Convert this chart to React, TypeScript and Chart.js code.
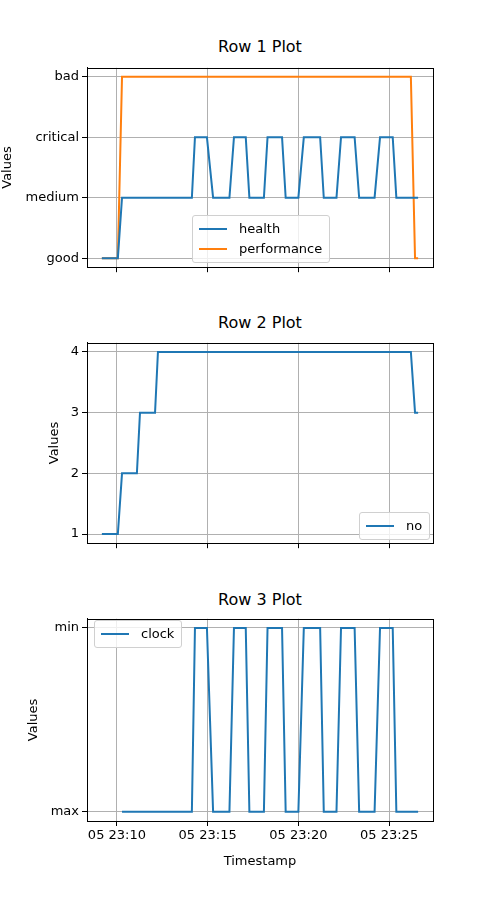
import { useRef, useEffect } from "react";
import { Chart, registerables } from "chart.js";

Chart.register(...registerables);

// minutes after 23:00
const healthTimes = [9.17, 10.05, 10.28, 14.13, 14.3, 14.96, 15.3, 16.2, 16.45, 17.1, 17.3, 18.1, 18.3, 19.1, 19.3, 20.0, 20.3, 21.2, 21.4, 22.1, 22.35, 23.1, 23.35, 24.2, 24.5, 25.2, 25.4, 26.6];
const healthValues = [0, 0, 1, 1, 2, 2, 1, 1, 2, 2, 1, 1, 2, 2, 1, 1, 2, 2, 1, 1, 2, 2, 1, 1, 2, 2, 1, 1];
const perfTimes = [9.17, 10.05, 10.28, 26.2, 26.43, 26.6];
const perfValues = [0, 0, 3, 3, 0, 0];
const noTimes = [9.17, 10.05, 10.28, 11.1, 11.27, 12.1, 12.26, 26.2, 26.43, 26.6];
const noValues = [1, 1, 2, 2, 3, 3, 4, 4, 3, 3];
const clockTimes = healthTimes.slice(2);
const clockValues = healthValues.slice(2).map((v) => (v === 2 ? 1 : 0));

const row1Labels = ["good", "medium", "critical", "bad"];
const row3Labels = ["max", "min"];
const xTicks = [10, 15, 20, 25];

const BLUE = "#1f77b4";
const ORANGE = "#ff7f0e";
const FONT = "'DejaVu Sans', sans-serif";

const frame = {
  id: "frame",
  afterDraw(chart: any) {
    const { ctx, chartArea: a } = chart;
    ctx.save();
    ctx.strokeStyle = "#000";
    ctx.lineWidth = 1;
    ctx.strokeRect(Math.round(a.left) + 0.5, Math.round(a.top) + 0.5, Math.round(a.right - a.left), Math.round(a.bottom - a.top));
    ctx.restore();
  },
};

interface IPanel {
  top: number;
  height: number;
  xHeight: number;
  padLeft: number;
  showX: boolean;
  yMin: number;
  yMax: number;
  yTicks: number[];
  yLabel: (v: number) => string;
  series: { label: string; times: number[]; values: number[]; color: string }[];
}

function Panel(p: IPanel) {
  const ref = useRef<HTMLCanvasElement>(null);
  useEffect(() => {
    if (!ref.current) return;
    const font = { family: FONT, size: 13 };
    const chart = new Chart(ref.current, {
      type: "line",
      data: {
        datasets: p.series.map((s) => ({
          label: s.label,
          data: s.times.map((t, i) => ({ x: t, y: s.values[i] })),
          borderColor: s.color,
          borderWidth: 2,
          pointRadius: 0,
          tension: 0,
        })),
      },
      options: {
        animation: false,
        responsive: false,
        layout: { padding: { left: p.padLeft, right: 67, top: 5, bottom: 0 } },
        plugins: { legend: { display: false }, tooltip: { enabled: false } },
        scales: {
          x: {
            type: "linear",
            min: 8.35,
            max: 27.42,
            afterBuildTicks: (s: any) => { s.ticks = xTicks.map((v) => ({ value: v })); },
            afterFit: (s: any) => { s.height = p.xHeight; },
            ticks: {
              display: p.showX,
              color: "#000",
              font,
              maxRotation: 0,
              padding: 2,
              callback: (v: any) => "05 23:" + String(v).padStart(2, "0"),
            },
            grid: { color: "#b0b0b0", tickColor: "#000", tickLength: 5 },
            border: { color: "#000" },
            title: { display: p.showX, text: "Timestamp", color: "#000", font, padding: 2 },
          },
          y: {
            min: p.yMin,
            max: p.yMax,
            afterBuildTicks: (s: any) => { s.ticks = p.yTicks.map((v) => ({ value: v })); },
            afterFit: (s: any) => { s.width = 87 - p.padLeft; },
            ticks: { color: "#000", font, padding: 3, callback: (v: any) => p.yLabel(Number(v)) },
            grid: { color: "#b0b0b0", tickColor: "#000", tickLength: 5 },
            border: { color: "#000" },
            title: { display: true, text: "Values", color: "#000", font, padding: 0 },
          },
        },
      },
      plugins: [frame],
    });
    return () => chart.destroy();
  }, []);
  return (
    <canvas ref={ref} width={500} height={p.height}
      style={{ position: "absolute", left: 0, top: p.top, width: 500, height: p.height }} />
  );
}

function Legend({ left, top, items }: { left: number; top: number; items: { label: string; color: string }[] }) {
  return (
    <div style={{
      position: "absolute", left, top, background: "rgba(255,255,255,0.8)", border: "1px solid #d0d0d0",
      borderRadius: 3, padding: "3px 7px 3px 6px", fontFamily: FONT, fontSize: 13, lineHeight: "20px",
    }}>
      {items.map((it) => (
        <div key={it.label} style={{ display: "flex", alignItems: "center" }}>
          <span style={{ display: "inline-block", width: 28, height: 2, background: it.color, marginRight: 12 }} />
          {it.label}
        </div>
      ))}
    </div>
  );
}

function Title({ top, text }: { top: number; text: string }) {
  return (
    <div style={{ position: "absolute", left: 87, width: 346, top, textAlign: "center", fontFamily: FONT, fontSize: 16, lineHeight: "20px" }}>
      {text}
    </div>
  );
}

export default function App() {
  return (
    <div style={{ position: "fixed", left: 0, top: 0, width: 500, height: 900, background: "#fff" }}>
      <Title top={37} text="Row 1 Plot" />
      <Panel top={57} height={221} xHeight={10} padLeft={0} showX={false} yMin={-0.15} yMax={3.15}
        yTicks={[0, 1, 2, 3]} yLabel={(v) => row1Labels[v] ?? ""}
        series={[
          { label: "health", times: healthTimes, values: healthValues, color: BLUE },
          { label: "performance", times: perfTimes, values: perfValues, color: ORANGE },
        ]} />
      <Legend left={192} top={215} items={[{ label: "health", color: BLUE }, { label: "performance", color: ORANGE }]} />

      <Title top={313} text="Row 2 Plot" />
      <Panel top={332} height={222} xHeight={10} padLeft={47} showX={false} yMin={0.85} yMax={4.15}
        yTicks={[1, 2, 3, 4]} yLabel={(v) => String(v)}
        series={[{ label: "no", times: noTimes, values: noValues, color: BLUE }]} />
      <Legend left={359} top={512} items={[{ label: "no", color: BLUE }]} />

      <Title top={590} text="Row 3 Plot" />
      <Panel top={608} height={263} xHeight={50} padLeft={26} showX={true} yMin={-0.05} yMax={1.05}
        yTicks={[0, 1]} yLabel={(v) => row3Labels[v] ?? ""}
        series={[{ label: "clock", times: clockTimes, values: clockValues, color: BLUE }]} />
      <Legend left={94} top={620} items={[{ label: "clock", color: BLUE }]} />
    </div>
  );
}
